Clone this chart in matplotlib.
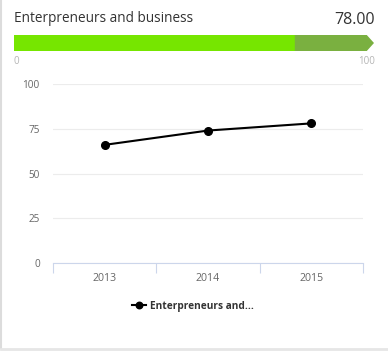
import matplotlib

matplotlib.use("Agg")
import matplotlib.pyplot as plt  # noqa: E402
from matplotlib.patches import Polygon  # noqa: E402

title = "Enterpreneurs and business"
score = 78.0
score_max = 100
years = ["2013", "2014", "2015"]
values = [66, 74, 78]
y_ticks = [0, 25, 50, 75, 100]
legend_label = "Enterpreneurs and..."

plt.rcParams["font.family"] = ["Open Sans", "DejaVu Sans"]

W, H = 388, 351
fig = plt.figure(figsize=(W / 100, H / 100), dpi=100)


def px_axes(x0, y0, x1, y1):
    # pixel box (top-left origin) -> figure axes
    return fig.add_axes([x0 / W, 1 - y1 / H, (x1 - x0) / W, (y1 - y0) / H])


# card border (left + bottom)
fig.add_artist(plt.Line2D([1 / W, 1 / W], [3 / H, 1], color="#dcdcdc", lw=1.5))
fig.add_artist(plt.Line2D([1 / W, 1], [2 / H, 2 / H], color="#e6e6e6", lw=2))

fig.text(14 / W, 1 - 19 / H, title, fontsize=9.8, color="#333333", va="center", ha="left")
fig.text(375 / W, 1 - 20.5 / H, f"{score:.2f}", fontsize=11.5, color="#333333",
         va="center", ha="right")

# progress bar
bax = px_axes(14, 35, 374, 51)
bax.set_xlim(0, score_max)
bax.set_ylim(0, 1)
bax.axis("off")
bax.barh(0.5, score, height=1, color="#76e600", align="center")
tip = score_max * 0.02
bax.add_patch(Polygon([(score, 0), (score_max - tip, 0), (score_max, 0.5),
                       (score_max - tip, 1), (score, 1)],
                      closed=True, color="#7ab040", lw=0))
fig.text(14 / W, 1 - 61 / H, "0", fontsize=7, color="#b5b5b5", va="center", ha="left")
fig.text(375 / W, 1 - 61 / H, str(score_max), fontsize=7, color="#b5b5b5",
         va="center", ha="right")

# line chart
ax = px_axes(53, 84, 363, 263)
x = range(len(years))
ax.plot(x, values, color="black", lw=1.5, marker="o", ms=5.5, label=legend_label)
ax.set_xlim(-0.5, len(years) - 0.5)
ax.set_ylim(0, 100)
ax.set_yticks(y_ticks)
ax.set_xticks(list(x))
ax.set_xticklabels(years)
ax.set_xticks([i - 0.5 for i in range(len(years) + 1)], minor=True)
ax.tick_params(axis="y", length=0, pad=9.5, labelsize=7.2, labelcolor="#666666")
ax.tick_params(axis="x", which="major", length=0, pad=7, labelsize=7.6, labelcolor="#666666")
ax.tick_params(axis="x", which="minor", length=7, width=0.8, color="#ccd6eb")
ax.grid(axis="y", color="#ececec", lw=0.8)
ax.set_axisbelow(True)
for s in ("top", "right", "left"):
    ax.spines[s].set_visible(False)
ax.spines["bottom"].set_color("#ccd6eb")
ax.spines["bottom"].set_linewidth(0.8)

leg = fig.legend(loc="center", bbox_to_anchor=(193 / W, 1 - 306 / H), frameon=False,
                 prop={"size": 7.3, "weight": "bold"}, handlelength=1.3,
                 handletextpad=0.4, labelcolor="#333333", markerscale=0.85)

fig.savefig("out.png", dpi=100)
